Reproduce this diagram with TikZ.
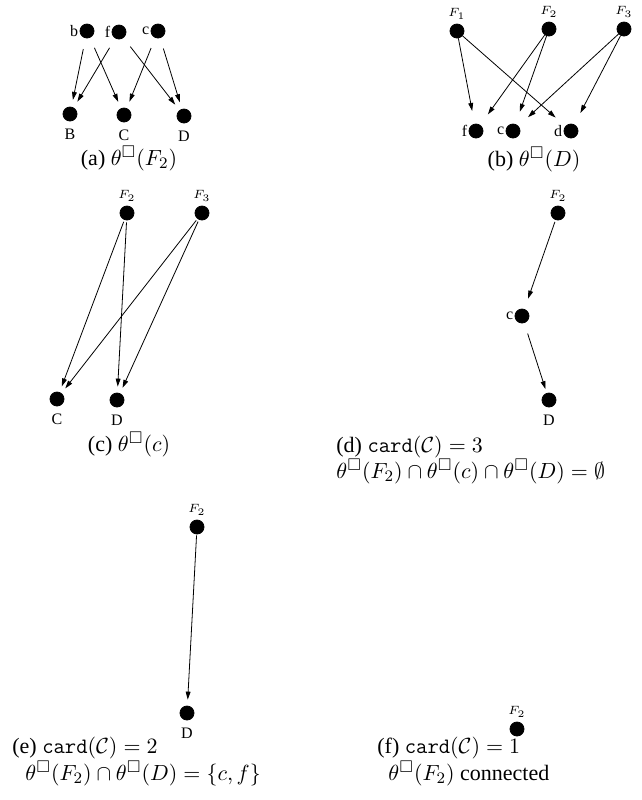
\documentclass[tikz,border=0pt]{standalone}
\usepackage{fontspec}
\setmainfont{Liberation Serif}
\usepackage{amssymb}
\usetikzlibrary{arrows.meta, positioning}

\begin{document}
\begin{tikzpicture}[x=0.5pt, y=-0.5pt,
  dot/.style={draw, circle, fill, inner sep=0pt, minimum size=7pt},
  lbl/.style={font=\fontsize{8}{9}\selectfont, inner sep=0.5pt},
  flbl/.style={font=\fontsize{6}{7}\selectfont, inner sep=0.5pt, label distance=1.5pt},
  arc/.style={-{Triangle[length=4pt, width=2.4pt]}, line width=0.4pt},
  capt/.style={font=\fontsize{11}{13}\selectfont, inner sep=0pt}]
\useasboundingbox (0,0) rectangle (642,800);
% (a)
\node[dot, label={[lbl]left:b}] (ab) at (87,31) {};
\node[dot, label={[lbl]left:f}] (af) at (119,32) {};
\node[dot, label={[lbl]left:c}] (ac) at (158,31) {};
\node[dot, label={[lbl, label distance=3pt]below:B}] (aB) at (70,114) {};
\node[dot, label={[lbl, label distance=3pt]below:C}] (aC) at (124,115) {};
\node[dot, label={[lbl, label distance=3pt]below:D}] (aD) at (184,116) {};
\draw[arc, shorten <=5.5pt, shorten >=3.5pt] (ab) -- (aB);
\draw[arc, shorten <=5.5pt, shorten >=3.5pt] (ab) -- (aC);
\draw[arc, shorten <=5.5pt, shorten >=3.5pt] (af) -- (aB);
\draw[arc, shorten <=5.5pt, shorten >=3.5pt] (af) -- (aD);
\draw[arc, shorten <=5.5pt, shorten >=3.5pt] (ac) -- (aC);
\draw[arc, shorten <=5.5pt, shorten >=3.5pt] (ac) -- (aD);
\node[capt, anchor=base] (capA) at (129,165) {(a) $\theta^{\square}(F_2)$};
% (b)
\node[dot, label={[flbl]above:$F_1$}] (bF1) at (457,31) {};
\node[dot, label={[flbl]above:$F_2$}] (bF2) at (549,29) {};
\node[dot, label={[flbl]above:$F_3$}] (bF3) at (624,29) {};
\node[dot, label={[lbl]left:f}] (bf) at (476,131) {};
\node[dot, label={[lbl]left:c}] (bc) at (513,131) {};
\node[dot, label={[lbl]left:d}] (bd) at (571,131) {};
\draw[arc, shorten >=6.5pt] (bF1) -- (bf);
\draw[arc, shorten >=6.5pt] (bF1) -- (bd);
\draw[arc, shorten >=6.5pt] (bF2) -- (bf);
\draw[arc, shorten >=6.5pt] (bF2) -- (bc);
\draw[arc, shorten >=6.5pt] (bF3) -- (bc);
\draw[arc, shorten >=6.5pt] (bF3) -- (bd);
\node[capt, anchor=base] (capB) at (534,166) {(b) $\theta^{\square}(D)$};
% (c)
\node[dot, label={[flbl]above:$F_2$}] (cF2) at (127,213) {};
\node[dot, label={[flbl]above:$F_3$}] (cF3) at (202,213) {};
\node[dot, label={[lbl, label distance=3pt]below:C}] (cC) at (57,399) {};
\node[dot, label={[lbl, label distance=3pt]below:D}] (cD) at (117,400) {};
\draw[arc, shorten <=1pt, shorten >=3pt] (cF2) -- (cC);
\draw[arc, shorten <=1pt, shorten >=3pt] (cF2) -- (cD);
\draw[arc, shorten <=1pt, shorten >=3pt] (cF3) -- (cC);
\draw[arc, shorten <=1pt, shorten >=3pt] (cF3) -- (cD);
\node[capt, anchor=base] (capC) at (129,451) {(c) $\theta^{\square}(c)$};
% (d)
\node[dot, label={[flbl]above:$F_2$}] (dF2) at (558,213) {};
\node[dot, label={[lbl]left:c}] (dc) at (522,316) {};
\node[dot, label={[lbl, label distance=3pt]below:D}] (dD) at (549,400) {};
\draw[arc, shorten <=1pt, shorten >=5.5pt] (dF2) -- (dc);
\draw[arc, shorten <=5.5pt, shorten >=2pt] (dc) -- (dD);
\node[capt, anchor=base west] (capD1) at (336,452) {(d) \texttt{card}$(\mathcal{C})=3$};
\node[capt, anchor=base west] (capD2) at (336,478) {$\theta^{\square}(F_2)\cap\theta^{\square}(c)\cap\theta^{\square}(D)=\emptyset$};
% (e)
\node[dot, label={[flbl]above:$F_2$}] (eF2) at (197,527) {};
\node[dot, label={[lbl, label distance=3pt]below:D}] (eD) at (187,713) {};
\draw[arc, shorten <=0.5pt, shorten >=3pt] (eF2) -- (eD);
\node[capt, anchor=base west] (capE1) at (12,753) {(e) \texttt{card}$(\mathcal{C})=2$};
\node[capt, anchor=base west] (capE2) at (25,780) {$\theta^{\square}(F_2)\cap\theta^{\square}(D)=\{c,f\}$};
% (f)
\node[dot, label={[flbl]above:$F_2$}] (fF2) at (517,729) {};
\node[capt, anchor=base west] (capF1) at (377,753) {(f) \texttt{card}$(\mathcal{C})=1$};
\node[capt, anchor=base west] (capF2) at (388,780) {$\theta^{\square}(F_2)$ connected};
\end{tikzpicture}
\end{document}
